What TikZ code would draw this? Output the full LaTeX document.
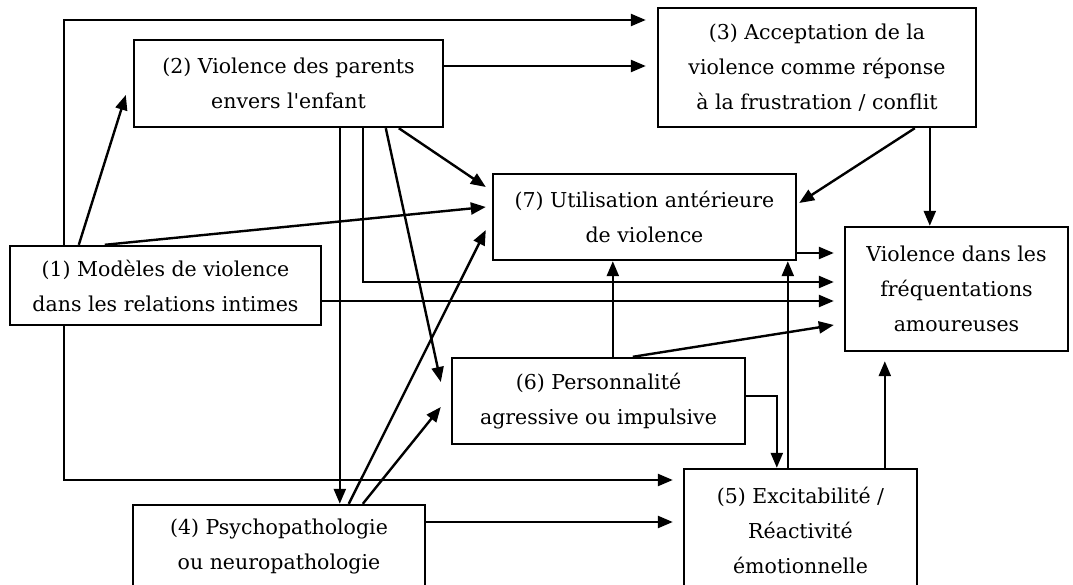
\documentclass[tikz,border=0pt]{standalone}
\usepackage{fontspec}
\setmainfont{DejaVu Serif}
\usetikzlibrary{arrows.meta,calc}
\begin{document}
\begin{tikzpicture}[x=1pt,y=-1pt,
  box/.style={draw,line width=2.4pt,inner sep=0pt,align=center,
    font=\fontsize{20.5}{35}\selectfont},
  arr/.style={line width=2.4pt,-{Triangle[length=15pt,width=12pt]}}]
\useasboundingbox (0,0) rectangle (1073,585);
\clip (0,0) rectangle (1073,585);
\node[box,minimum width=311pt,minimum height=79pt] (b1) at (165.5,285.5)
  {(1) Modèles de violence\\dans les relations intimes};
\node[box,minimum width=309pt,minimum height=87pt] (b2) at (288.5,83.5)
  {(2) Violence des parents\\envers l\textquotesingle enfant};
\node[box,minimum width=318pt,minimum height=119pt] (b3) at (817,67.5)
  {(3) Acceptation de la\\violence comme réponse\\à la frustration / conflit};
\node[box,minimum width=303pt,minimum height=86pt] (b7) at (644.5,217)
  {(7) Utilisation antérieure\\de violence};
\node[box,minimum width=223pt,minimum height=124pt] (bt) at (956.5,289)
  {Violence dans les\\fréquentations\\amoureuses};
\node[box,minimum width=293pt,minimum height=86pt] (b6) at (598.5,401)
  {(6) Personnalité\\agressive ou impulsive};
\node[box,minimum width=233pt,minimum height=122pt] (b5) at (800.5,530)
  {(5) Excitabilité /\\Réactivité\\émotionnelle};
\node[box,minimum width=292pt,minimum height=82pt] (b4) at (279,546)
  {(4) Psychopathologie\\ou neuropathologie};
% from (1)
\draw[arr] ($(b1.north west)+(55,0)$) |- ($(b3.west)+(-11,-47.5)$);
\draw[arr] ($(b1.south west)+(55,0)$) |- ($(b5.west)+(-10,-50)$);
\draw[arr] ($(b1.north west)+(70,0)$) -- ($(b2.west)+(-7,11.5)$);
\draw[arr] ($(b1.north west)+(96,0)$) -- ($(b7.west)+(-6,-10)$);
\draw[arr] ($(b1.east)+(0,15.5)$) -- ($(bt.west)+(-10,12)$);
% from (2)
\draw[arr] ($(b2.east)+(0,-17.5)$) -- ($(b3.west)+(-11,-1.5)$);
\draw[arr] ($(b2.south west)+(207,0)$) -- ($(b4.north west)+(208,0)$);
\draw[arr] ($(b2.south west)+(230,0)$) |- ($(bt.west)+(-10,-7)$);
\draw[arr] ($(b2.south west)+(253,0)$) -- ($(b6.west)+(-10,-19)$);
\draw[arr] ($(b2.south west)+(266,0)$) -- ($(b7.west)+(-6,-30)$);
% from (3)
\draw[arr] ($(b3.south west)+(258,0)$) -- ($(b7.east)+(2,-14)$);
\draw[arr] ($(b3.south west)+(273,0)$) -- ($(bt.north west)+(86,0)$);
% from (7)
\draw[arr] ($(b7.east)+(0,36)$) -- ($(bt.west)+(-10,-36)$);
% from (6)
\draw[arr] ($(b6.north west)+(162,0)$) -- ($(b7.south west)+(121,0)$);
\draw[arr] ($(b6.north west)+(182,0)$) -- ($(bt.west)+(-10,36)$);
\draw[arr] ($(b6.east)+(0,-5)$) -| ($(b5.north west)+(94,0)$);
% from (5)
\draw[arr] ($(b5.north west)+(105,0)$) -- ($(b7.south west)+(296,0)$);
\draw[arr] ($(b5.north west)+(202,0)$) -- ($(bt.south west)+(41,9)$);
% from (4)
\draw[arr] ($(b4.east)+(0,-24)$) -- ($(b5.west)+(-10,-8)$);
\draw[arr] ($(b4.north west)+(217,0)$) -- ($(b7.west)+(-6,13)$);
\draw[arr] ($(b4.north west)+(231,0)$) -- ($(b6.west)+(-10,6)$);
\end{tikzpicture}
\end{document}
